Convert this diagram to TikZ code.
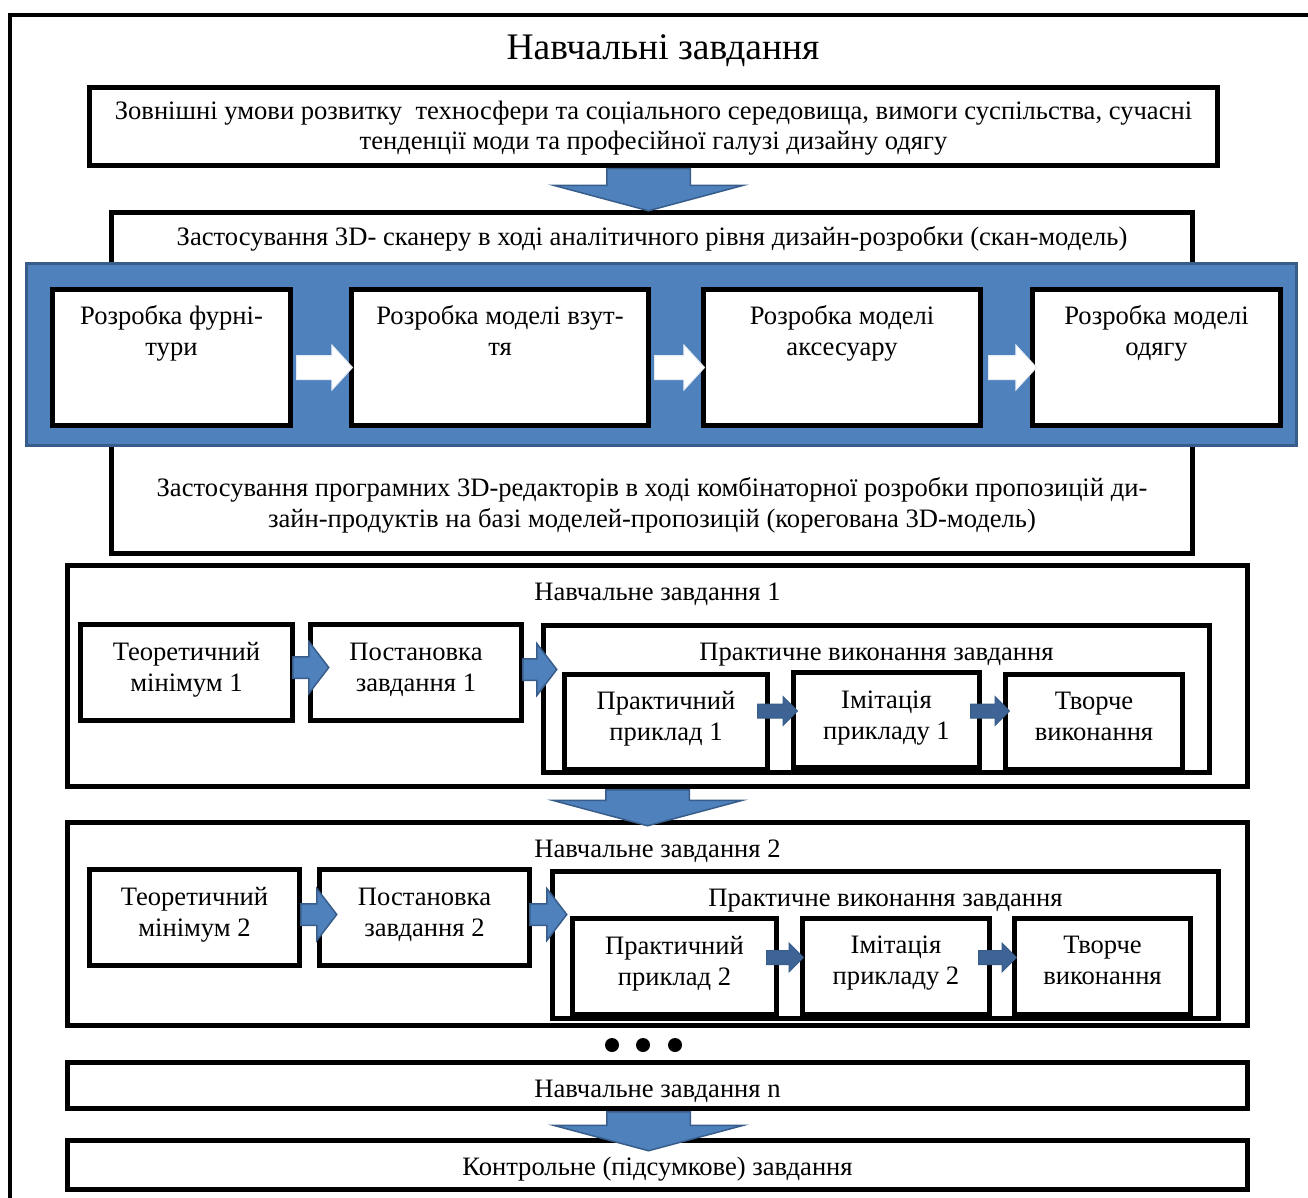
\documentclass[tikz,border=0pt]{standalone}
\usepackage{fontspec}
\setmainfont{Liberation Serif}
\usepackage{xcolor}
\definecolor{boxblue}{RGB}{79,129,189}
\definecolor{edgeblue}{RGB}{56,93,138}
\definecolor{darkarrow}{RGB}{62,100,150}
\usetikzlibrary{calc, shapes.arrows}

\begin{document}
\begin{tikzpicture}[x=1pt, y=-1pt,
    box/.style={draw, line width=5, fill=white, inner sep=0pt, anchor=north west},
    txt/.style={font=\fontsize{26.6}{31}\selectfont, align=center, inner sep=0pt, anchor=base},
    wharrow/.style={single arrow, anchor=tail, fill=white, draw=white!85!boxblue, line width=1, inner xsep=0pt, inner ysep=11.5,
        single arrow head extend=10.5, single arrow tip angle=95},
    bharrow/.style={single arrow, anchor=tail, fill=boxblue, draw=edgeblue, line width=1.5, inner xsep=0pt, inner ysep=10,
        single arrow head extend=15, single arrow tip angle=105},
    sharrow/.style={single arrow, anchor=tail, fill=darkarrow, draw=edgeblue, line width=1, inner xsep=0pt, inner ysep=6.5,
        single arrow head extend=7.5, single arrow tip angle=90},
    downarrow/.style={single arrow, anchor=tail, rotate=-90, fill=boxblue, draw=edgeblue, line width=1.5, inner xsep=0pt, inner ysep=41,
        single arrow head extend=53, single arrow tip angle=150}]
    \useasboundingbox (0,0) rectangle (1308,1198);
    \draw[line width=4] (10,1198) -- (10,15) -- (1308,15);
    \node[font=\fontsize{37.5}{40}\selectfont, inner sep=0pt, anchor=base] (title) at (663,60) {Навчальні завдання};

    % top part
    \node[box, minimum width=1128, minimum height=78] (ext) at (87,85) {};
    \begin{scope}
        \clip (ext.north west) rectangle ($(ext.south east)+(0,-12)$);
        \node[txt, font=\fontsize{26.6}{30}\selectfont] (extt) at ($(ext.north)+(0,65)$) {Зовнішні умови розвитку~ техносфери та соціального середовища, вимоги суспільства, сучасні\\тенденції моди та професійної галузі дизайну одягу};
    \end{scope}
    \node[box, minimum width=1081, minimum height=341] (scan) at (109,210) {};
    \node[txt] (scant) at ($(scan.north)+(0,36)$) {Застосування 3D- сканеру в ході аналітичного рівня дизайн-розробки (скан-модель)};
    \node[txt] (progt) at ($(scan.south)+(0,-29)$) {Застосування програмних 3D-редакторів в ході комбінаторної розробки пропозицій ди-\\зайн-продуктів на базі моделей-пропозицій (корегована 3D-модель)};
    \node[draw=edgeblue, fill=boxblue, line width=3, minimum width=1270, minimum height=182, anchor=north west] (band) at (25,262) {};
    \node[downarrow, minimum height=42] (d1) at ($(ext.south)+(-5,0)$) {};

    % design models
    \node[box, minimum width=238, minimum height=136] (fur) at (50,287) {};
    \node[box, minimum width=297, minimum height=136] (vzut) at (349,287) {};
    \node[box, minimum width=277, minimum height=136] (aks) at (701,287) {};
    \node[box, minimum width=248, minimum height=136] (odyag) at (1030,287) {};
    \node[txt] (furt) at ($(fur.north)+(0,68)$) {Розробка фурні-\\тури};
    \node[txt] (vzutt) at ($(vzut.north)+(0,68)$) {Розробка моделі взут-\\тя};
    \node[txt] (akst) at ($(aks.north)+(0,68)$) {Розробка моделі\\аксесуару};
    \node[txt] (odyagt) at ($(odyag.north)+(0,68)$) {Розробка моделі\\одягу};
    \node[wharrow, minimum height=56] (w1) at ($(fur.east)+(3,10)$) {};
    \node[wharrow, minimum height=50] (w2) at ($(vzut.east)+(3,10)$) {};
    \node[wharrow, minimum height=48] (w3) at ($(aks.east)+(5,10)$) {};

    % task 1
    \node[box, minimum width=1180, minimum height=221] (task1) at (65,563) {};
    \node[txt] (task1t) at ($(task1.north)+(0,37)$) {Навчальне завдання 1};
    \node[box, minimum width=212, minimum height=96] (teo1) at (78,622) {};
    \node[box, minimum width=211, minimum height=96] (post1) at (308,622) {};
    \node[box, minimum width=666, minimum height=147] (prac1) at (541,623) {};
    \node[txt] (teo1t) at ($(teo1.north)+(0,69)$) {Теоретичний\\мінімум 1};
    \node[txt] (post1t) at ($(post1.north)+(0,69)$) {Постановка\\завдання 1};
    \node[txt] (prac1t) at ($(prac1.north)+(0,37)$) {Практичне виконання завдання};
    \node[box, minimum width=203, minimum height=95] (pp1) at (562,672) {};
    \node[box, minimum width=186, minimum height=95] (im1) at (791,670) {};
    \node[box, minimum width=177, minimum height=95] (tv1) at (1003,672) {};
    \node[txt] (pp1t) at ($(pp1.north)+(0,68)$) {Практичний\\приклад 1};
    \node[txt] (im1t) at ($(im1.north)+(0,69)$) {Імітація\\прикладу 1};
    \node[txt] (tv1t) at ($(tv1.north)+(0,68)$) {Творче\\виконання};
    \node[bharrow, minimum height=36] (b11) at ($(teo1.east)+(-3,-5)$) {};
    \node[bharrow, minimum height=34] (b12) at ($(post1.east)+(-2,-3)$) {};
    \node[sharrow, minimum height=40] (s11) at ($(pp1.east)+(-13,-11)$) {};
    \node[sharrow, minimum height=39] (s12) at ($(im1.east)+(-12,-9)$) {};

    % task 2
    \node[box, minimum width=1180, minimum height=203] (task2) at (65,820) {};
    \node[txt] (task2t) at ($(task2.north)+(0,37)$) {Навчальне завдання 2};
    \node[box, minimum width=210, minimum height=96] (teo2) at (87,867) {};
    \node[box, minimum width=210, minimum height=96] (post2) at (317,867) {};
    \node[box, minimum width=666, minimum height=147] (prac2) at (550,869) {};
    \node[txt] (teo2t) at ($(teo2.north)+(0,69)$) {Теоретичний\\мінімум 2};
    \node[txt] (post2t) at ($(post2.north)+(0,69)$) {Постановка\\завдання 2};
    \node[txt] (prac2t) at ($(prac2.north)+(0,37)$) {Практичне виконання завдання};
    \node[box, minimum width=204, minimum height=96] (pp2) at (570,916) {};
    \node[box, minimum width=187, minimum height=96] (im2) at (800,916) {};
    \node[box, minimum width=176, minimum height=96] (tv2) at (1012,916) {};
    \node[txt] (pp2t) at ($(pp2.north)+(0,69)$) {Практичний\\приклад 2};
    \node[txt] (im2t) at ($(im2.north)+(0,68)$) {Імітація\\прикладу 2};
    \node[txt] (tv2t) at ($(tv2.north)+(0,68)$) {Творче\\виконання};
    \node[bharrow, minimum height=36] (b21) at ($(teo2.east)+(-2,-3)$) {};
    \node[bharrow, minimum height=37] (b22) at ($(post2.east)+(-3,-3)$) {};
    \node[sharrow, minimum height=37] (s21) at ($(pp2.east)+(-13,-9)$) {};
    \node[sharrow, minimum height=38] (s22) at ($(im2.east)+(-14,-9)$) {};
    \node[downarrow, minimum height=36] (d2) at ($(task1.south)+(-10,0)$) {};

    % remaining tasks
    \fill (612,1045) circle (7) (643,1045) circle (7) (675,1045) circle (7);
    \node[box, minimum width=1180, minimum height=46] (taskn) at (65,1060) {};
    \begin{scope}
        \clip (taskn.north west) rectangle ($(taskn.south east)+(0,-7)$);
        \node[txt] (tasknt) at ($(taskn.north)+(0,37)$) {Навчальне завдання n};
    \end{scope}
    \node[box, minimum width=1180, minimum height=49] (ctrl) at (65,1138) {};
    \begin{scope}
        \clip (ctrl.north west) rectangle ($(ctrl.south east)+(0,-11)$);
        \node[txt] (ctrlt) at ($(ctrl.north)+(0,37)$) {Контрольне (підсумкове) завдання};
    \end{scope}
    \node[downarrow, minimum height=39] (d3) at ($(taskn.south)+(-9,0)$) {};
\end{tikzpicture}
\end{document}
